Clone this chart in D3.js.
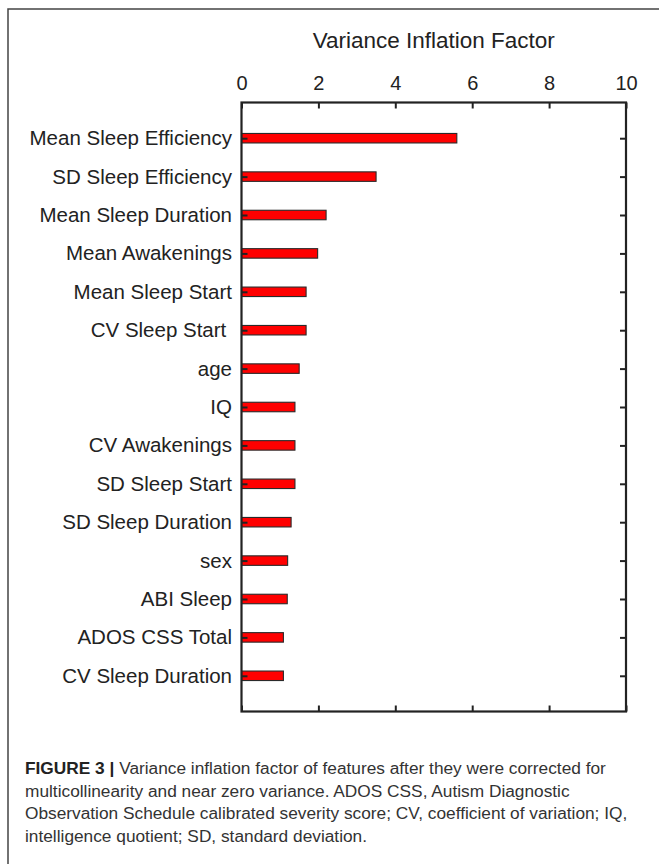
<!DOCTYPE html>
<html>
<head>
<meta charset="utf-8">
<script src="https://cdn.jsdelivr.net/npm/d3@7"></script>
<style>
  html, body { margin: 0; padding: 0; background: #fff; }
  svg { display: block; }
  text { font-family: "Liberation Sans", Arial, Helvetica, sans-serif; }
</style>
</head>
<body>
<svg id="chart" width="659" height="864"></svg>
<script>
const categories = [
  "Mean Sleep Efficiency", "SD Sleep Efficiency", "Mean Sleep Duration",
  "Mean Awakenings", "Mean Sleep Start", "CV Sleep Start ", "age", "IQ",
  "CV Awakenings", "SD Sleep Start", "SD Sleep Duration", "sex",
  "ABI Sleep", "ADOS CSS Total", "CV Sleep Duration"
];
const vifValues = [5.6, 3.5, 2.2, 1.98, 1.68, 1.68, 1.5, 1.39, 1.39, 1.39, 1.29, 1.2, 1.19, 1.09, 1.09];
const xTicks = [0, 2, 4, 6, 8, 10];
const axisTitle = "Variance Inflation Factor";
const captionBold = "FIGURE 3 |";
const captionLines = [
  " Variance inflation factor of features after they were corrected for",
  "multicollinearity and near zero variance. ADOS CSS, Autism Diagnostic",
  "Observation Schedule calibrated severity score; CV, coefficient of variation; IQ,",
  "intelligence quotient; SD, standard deviation."
];

(function () {
const svg = d3.select("#chart");
const pL = 241.5, pR = 626, pT = 102.5, pB = 711.5;

// outer frame (top and left edges)
svg.append("path").attr("d", `M8,864 L8,9 L659,9`)
  .attr("fill", "none").attr("stroke", "#444").attr("stroke-width", 1.5);

const x = d3.scaleLinear().domain([0, 10]).range([pL, pR]);
const y = d3.scalePoint().domain(categories).range([pT, pB]).padding(0.93);

const barH = 9.5;
svg.append("g").selectAll("rect").data(categories).join("rect")
  .attr("x", x(0))
  .attr("y", d => y(d) - barH / 2)
  .attr("width", (d, i) => x(vifValues[i]) - x(0))
  .attr("height", barH)
  .attr("fill", "#ff0000")
  .attr("stroke", "#2a2a2a")
  .attr("stroke-width", 1.1);

const axCol = "#222";
const topAxis = d3.axisTop(x).tickValues(xTicks).tickSizeInner(-6).tickSizeOuter(0).tickPadding(13);
const gTop = svg.append("g").attr("transform", `translate(0,${pT})`).call(topAxis);
gTop.select(".domain").remove();
gTop.selectAll(".tick line").attr("stroke", axCol).attr("stroke-width", 2);
gTop.selectAll(".tick text").attr("font-size", 20).attr("fill", "#222")
  .attr("font-family", "Liberation Sans, Arial, sans-serif");

const botAxis = d3.axisBottom(x).tickValues(xTicks).tickSizeInner(-6).tickSizeOuter(0).tickFormat("");
const gBot = svg.append("g").attr("transform", `translate(0,${pB})`).call(botAxis);
gBot.select(".domain").remove();
gBot.selectAll(".tick line").attr("stroke", axCol).attr("stroke-width", 2);

const leftAxis = d3.axisLeft(y).tickSizeInner(-6).tickSizeOuter(0).tickPadding(9.5);
const gLeft = svg.append("g").attr("transform", `translate(${pL},0)`).call(leftAxis);
gLeft.select(".domain").remove();
gLeft.selectAll(".tick line").attr("stroke", axCol).attr("stroke-width", 2);
gLeft.selectAll(".tick text").attr("font-size", 20.5).attr("fill", "#222")
  .style("white-space", "pre")
  .attr("font-family", "Liberation Sans, Arial, sans-serif");

const rightAxis = d3.axisRight(y).tickSizeInner(-6).tickSizeOuter(0).tickFormat("");
const gRight = svg.append("g").attr("transform", `translate(${pR},0)`).call(rightAxis);
gRight.select(".domain").remove();
gRight.selectAll(".tick line").attr("stroke", axCol).attr("stroke-width", 2);

svg.append("rect").attr("x", pL).attr("y", pT)
  .attr("width", pR - pL).attr("height", pB - pT)
  .attr("fill", "none").attr("stroke", axCol).attr("stroke-width", 2.2);

svg.append("text").attr("x", (pL + pR) / 2).attr("y", 48)
  .attr("text-anchor", "middle").attr("font-size", 22.5).attr("fill", "#222")
  .text(axisTitle);

const cap = svg.append("text").attr("font-size", 17.3).attr("fill", "#333");
captionLines.forEach((line, i) => {
  if (i === 0) {
    cap.append("tspan").attr("x", 25).attr("y", 774)
      .attr("font-weight", "bold").attr("fill", "#222").text(captionBold);
    cap.append("tspan").style("white-space", "pre").text(line);
  } else {
    cap.append("tspan").attr("x", 25).attr("y", 774 + i * 22.7).text(line);
  }
});
})();
</script>
</body>
</html>
